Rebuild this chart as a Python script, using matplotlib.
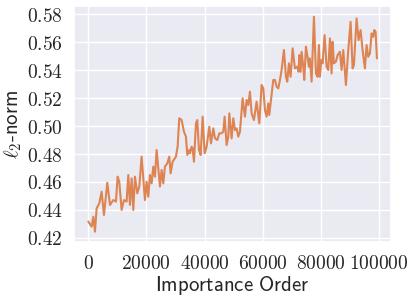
import matplotlib
matplotlib.use("Agg")
import matplotlib.pyplot as plt
import matplotlib.ticker as mticker
import seaborn as sns

# importance order (x) and l2-norm (y)
order = [0, 1147, 1720, 2294, 2868, 3785, 4588, 5391, 6538, 7456, 8603, 9520,
         10094, 10667, 11470, 12273, 13191, 13764, 14338, 14911, 15485, 16058,
         16861, 17549, 18352, 19499, 20073, 20646, 21220, 21793, 22367, 22940,
         23514, 24661, 25234, 25808, 26381, 27184, 27872, 28331, 29019, 30166,
         30740, 31313, 32116, 32919, 33607, 34066, 34754, 35000, 35568, 35912,
         36371, 37059, 37518, 38091, 38665, 39353, 40041, 40730, 41647, 42221,
         43024, 43597, 44400, 45088, 45891, 46465, 46924, 47612, 48185, 48529,
         49332, 49906, 50479, 51053, 51626, 52200, 53117, 53920, 54494, 55067,
         55641, 56214, 57017, 57935, 58853, 59656, 60229, 60803, 61376, 61950,
         62294, 63097, 63670, 64244, 64817, 65391, 65965, 66538, 67341, 68029,
         68488, 69062, 69635, 70323, 71126, 71929, 72388, 72617, 73076, 73420,
         73994, 74338, 74911, 75370, 75944, 76288, 76861, 77664, 78352, 78926,
         79385, 79729, 80188, 80646, 81335, 82023, 82596, 83170, 83743, 84088,
         84546, 85234, 85808, 86611, 87184, 87758, 88675, 89478, 90281, 90970,
         91428, 92346, 93034, 93722, 94410, 95213, 95787, 96360, 96934, 97507,
         98081, 98425, 98884, 99343]
l2norm = [0.4317, 0.4281, 0.4352, 0.4245, 0.4412, 0.4448, 0.4531, 0.4364, 0.4595,
          0.4436, 0.4471, 0.4460, 0.4638, 0.4602, 0.4400, 0.4471, 0.4460, 0.4650,
          0.4436, 0.4626, 0.4400, 0.4638, 0.4519, 0.4567, 0.4781, 0.4471, 0.4602,
          0.4495, 0.4650, 0.4590, 0.4710, 0.4638, 0.4829, 0.4567, 0.4686, 0.4590,
          0.4710, 0.4733, 0.4781, 0.4662, 0.4745, 0.4781, 0.4852, 0.5055, 0.5043,
          0.4960, 0.4924, 0.4793, 0.4829, 0.4805, 0.4852, 0.4840, 0.4745, 0.5019,
          0.5043, 0.4829, 0.4793, 0.5067, 0.4805, 0.4852, 0.4995, 0.4876, 0.4983,
          0.4912, 0.4900, 0.4948, 0.4948, 0.4960, 0.5067, 0.4864, 0.4924, 0.5090,
          0.4912, 0.5055, 0.4971, 0.4983, 0.4924, 0.4960, 0.5198, 0.5067, 0.5186,
          0.5150, 0.5245, 0.5090, 0.5043, 0.5174, 0.5019, 0.5293, 0.5269, 0.5114,
          0.5067, 0.5162, 0.5079, 0.5221, 0.5329, 0.5329, 0.5281, 0.5269, 0.5329,
          0.5400, 0.5543, 0.5352, 0.5317, 0.5448, 0.5352, 0.5555, 0.5412, 0.5424,
          0.5388, 0.5507, 0.5388, 0.5531, 0.5424, 0.5329, 0.5567, 0.5507, 0.5424,
          0.5483, 0.5317, 0.5781, 0.5376, 0.5352, 0.5579, 0.5352, 0.5471, 0.5448,
          0.5650, 0.5424, 0.5400, 0.5626, 0.5376, 0.5602, 0.5448, 0.5460, 0.5507,
          0.5531, 0.5400, 0.5543, 0.5293, 0.5543, 0.5745, 0.5412, 0.5436, 0.5769,
          0.5614, 0.5686, 0.5543, 0.5412, 0.5579, 0.5495, 0.5519, 0.5662, 0.5638,
          0.5686, 0.5674, 0.5483]

sns.set_theme(style="darkgrid")
plt.rcParams["mathtext.fontset"] = "cm"

fig = plt.figure(figsize=(4.15, 3.0), dpi=100)
ax = fig.add_axes([0.178, 0.192, 0.765, 0.788])

ax.plot(order, l2norm, color=sns.color_palette("deep")[1], lw=1.5)

ax.set_xticks([0, 20000, 40000, 60000, 80000, 100000])
ax.set_yticks([0.42, 0.44, 0.46, 0.48, 0.50, 0.52, 0.54, 0.56, 0.58])
ax.xaxis.set_major_formatter(mticker.FuncFormatter(lambda v, p: r"$%d$" % v))
ax.yaxis.set_major_formatter(mticker.FuncFormatter(lambda v, p: r"$%.2f$" % v))
ax.tick_params(axis="both", labelsize=14, pad=2)

ax.set_xlabel(r"$\mathsf{Importance\ Order}$", fontsize=15, labelpad=1)
ax.set_ylabel(r"$\ell_2\mathsf{\text{-}norm}$", fontsize=15, labelpad=2)

plt.savefig("out.png", dpi=100)
